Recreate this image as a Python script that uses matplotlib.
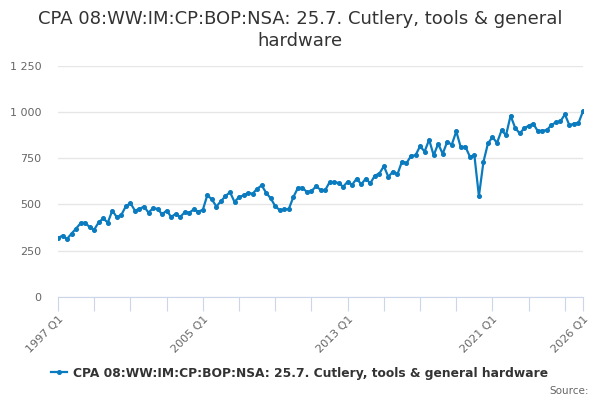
import matplotlib.pyplot as plt
import numpy as np

# quarterly values, 1997 Q1 .. 2026 Q1
values = [
    319, 332, 314, 343, 370, 399, 402, 377, 364, 404,
    425, 402, 467, 431, 444, 491, 507, 467, 476, 489,
    456, 480, 476, 447, 467, 433, 449, 433, 458, 456,
    473, 462, 471, 551, 527, 489, 518, 545, 567, 514,
    540, 549, 563, 558, 585, 603, 563, 533, 491, 469,
    473, 476, 540, 589, 591, 567, 572, 598, 580, 576,
    620, 621, 616, 596, 623, 607, 640, 609, 640, 614,
    656, 667, 707, 649, 678, 663, 732, 723, 763, 766,
    815, 786, 850, 766, 828, 774, 839, 823, 895, 808,
    813, 759, 766, 545, 730, 830, 864, 833, 900, 875,
    980, 915, 884, 911, 926, 937, 897, 899, 902, 929,
    944, 949, 987, 928, 937, 940, 1004,
]
years = 1997 + np.arange(len(values)) // 4
quarters = np.arange(len(values)) % 4 + 1
categories = [f"{y} Q{q}" for y, q in zip(years, quarters)]

label_idx = [0, 32, 64, 96, len(values) - 1]
y_ticks = [0, 250, 500, 750, 1000, 1250]
title = "CPA 08:WW:IM:CP:BOP:NSA: 25.7. Cutlery, tools & general hardware"

line_color = "#0a7bbf"
x = np.arange(len(values))

fig = plt.figure(figsize=(6, 4), dpi=100)
ax = fig.add_axes([58 / 600, 1 - 297 / 400, 525 / 600, (297 - 65.7) / 400])

ax.plot(x, values, color=line_color, lw=1.6, marker="o", ms=2.6, zorder=3,
        label=title)

ax.set_xlim(0, len(values) - 1)
ax.set_ylim(0, 1250)

# y axis
ax.set_yticks(y_ticks)
ax.set_yticklabels([f"{v:,}".replace(",", " ") for v in y_ticks])
ax.tick_params(axis="y", length=0, labelsize=8, labelcolor="#666666", pad=12)
ax.yaxis.grid(True, color="#e6e6e6", lw=1)
ax.set_axisbelow(True)

# x axis
xt = list(range(0, len(values) - 1, 8)) + [len(values) - 1]
ax.set_xticks(xt)
ax.set_xticklabels([categories[i] if i in label_idx else "" for i in xt],
                   rotation=45, ha="right", rotation_mode="anchor")
ax.tick_params(axis="x", length=10, color="#ccd6eb", labelsize=8,
               labelcolor="#666666", pad=2)

for s in ["top", "right", "left"]:
    ax.spines[s].set_visible(False)
ax.spines["bottom"].set_color("#ccd6eb")
ax.spines["bottom"].set_zorder(2)

fig.text(0.5, 0.975, "CPA 08:WW:IM:CP:BOP:NSA: 25.7. Cutlery, tools & general\nhardware",
         ha="center", va="top", fontsize=13, color="#333333", linespacing=1.25)

leg = fig.legend(loc="center", bbox_to_anchor=(0.5, 1 - 373 / 400), frameon=False,
                 prop={"size": 8.8, "weight": "bold"}, handlelength=1.3,
                 handletextpad=0.5, labelcolor="#333333")

fig.text(589 / 600, 1 - 391 / 400, "Source:", ha="right", va="center",
         fontsize=7.5, color="#666666")

fig.savefig("out.png", dpi=100)
